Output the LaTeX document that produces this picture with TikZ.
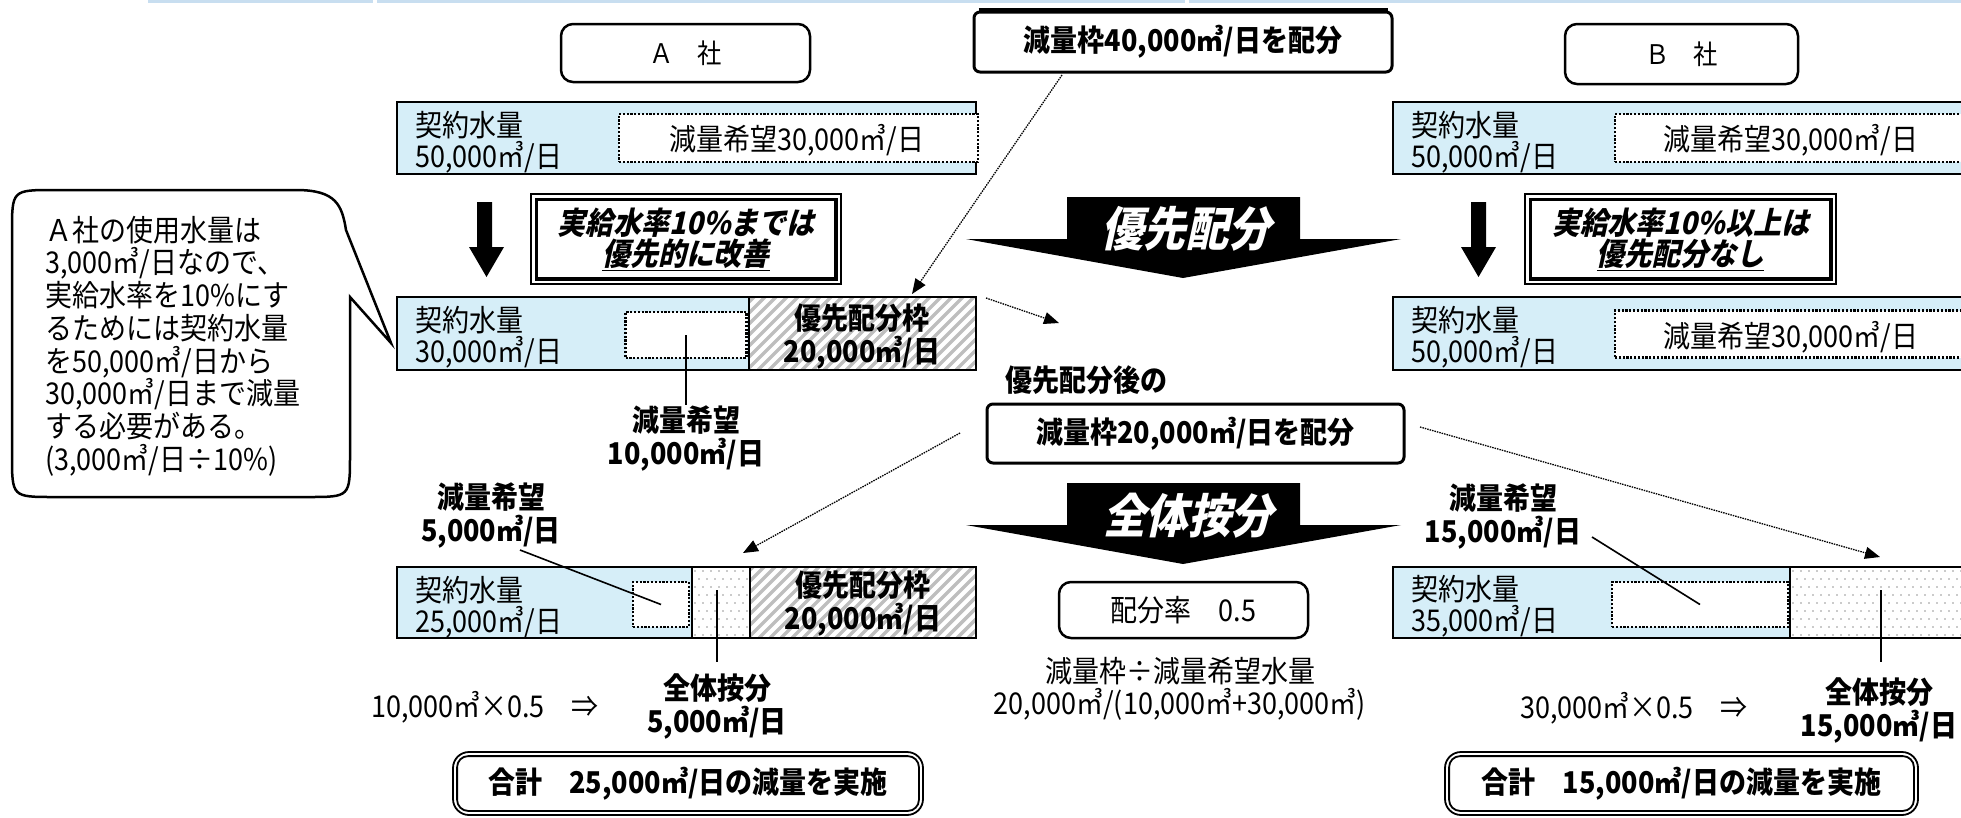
\documentclass[tikz,border=0pt]{standalone}
\usepackage{fontspec}
\setmainfont{Noto Sans CJK JP}[FakeStretch=0.9]
\newfontfamily\jpsl{Noto Sans CJK JP}[FakeSlant=0.22,FakeStretch=0.9]
\usetikzlibrary{arrows.meta,calc}
\definecolor{lblue}{RGB}{214,238,248}
\definecolor{hatchgray}{RGB}{190,190,190}
\definecolor{topline}{RGB}{200,222,240}
\definecolor{dotgray}{RGB}{150,150,150}

\newcommand{\hatchrect}[4]{%
  \begin{scope}\clip (#1,#2) rectangle (#3,#4);
  \foreach \k in {0,11,...,330} \draw[hatchgray, line width=3.5pt] (#1-90+\k,#4) -- ++(95,-95);
  \end{scope}}
\newcommand{\stipplerect}[4]{%
  \begin{scope}\clip (#1,#2) rectangle (#3,#4);
  \foreach \yy in {0,16,...,80} \foreach \xx in {0,8,...,200} \fill[dotgray] (#1+\xx+3,#2+\yy+4) circle (0.9pt);
  \foreach \yy in {8,24,...,80} \foreach \xx in {0,8,...,200} \fill[dotgray] (#1+\xx+7,#2+\yy+4) circle (0.9pt);
  \end{scope}}

\begin{document}
\begin{tikzpicture}[x=1pt,y=-1pt,
  txt/.style={font=\fontsize{30}{31}\selectfont, inner sep=0pt},
  btxt/.style={font=\fontsize{30}{33}\selectfont\bfseries, inner sep=0pt, align=center},
  frame/.style={draw, line width=2.5pt, inner sep=0pt},
  dotbox/.style={draw, fill=white, line width=2.5pt, dash pattern=on 2.2pt off 1.6pt, inner sep=0pt},
  rbox/.style={draw, line width=2.5pt, rounded corners=12pt, fill=white, inner sep=0pt},
  thickbox/.style={draw, line width=3pt, rounded corners=6pt, fill=white, inner sep=0pt},
  dblbox/.style={draw, line width=1.8pt, inner sep=0pt, align=center, font=\jpsl\bfseries\fontsize{31}{31}\selectfont},
  sumbox/.style={draw, line width=1.8pt, rounded corners=16pt, inner sep=0pt, font=\fontsize{30}{31}\selectfont\bfseries},
  darr/.style={line width=1.3pt, dash pattern=on 1.5pt off 1pt, -{Triangle[length=15pt,width=12pt]}},
  lead/.style={line width=1.6pt},
  bigtxt/.style={font=\jpsl\bfseries\fontsize{47}{50}\selectfont, text=white, inner sep=0pt},
  sep/.style={line width=2.5pt}
]
\useasboundingbox (0,0) rectangle (1961,817);

% top line
\draw[topline, line width=3pt] (148,1) -- (373,1) (377,1) -- (1185,1) (1189,1) -- (1961,1);

% company headers
\node[rbox, minimum width=249pt, minimum height=58pt, font=\fontsize{27}{30}\selectfont] (asha) at (685.5,53) {Ａ　社};
\node[rbox, minimum width=233pt, minimum height=60pt, font=\fontsize{27}{30}\selectfont] (bsha) at (1681.5,54) {Ｂ　社};

% reduction frame 40000
\node[thickbox, minimum width=418pt, minimum height=60pt, font=\fontsize{30}{31}\selectfont\bfseries] (w40) at (1183,42) {減量枠40,000㎥/日を配分};
\draw[line width=5pt] ([xshift=6pt]w40.north west) -- ([xshift=-6pt]w40.north east);

% ---------- Row 1 ----------
\node[frame, fill=lblue, minimum width=579pt, minimum height=72pt] (a1) at (686.5,138) {};
\node[dotbox, minimum width=359pt, minimum height=48pt] (a1d) at (798.5,138) {};
\node[txt, align=left, anchor=west] (a1t) at (415,142) {契約水量\\50,000㎥/日};
\node[txt] (a1w) at (797,140) {減量希望30,000㎥/日};

\node[frame, fill=lblue, minimum width=579pt, minimum height=72pt] (b1) at (1682.5,138) {};
\node[dotbox, minimum width=359pt, minimum height=48pt] (b1d) at (1794.5,138) {};
\node[txt, align=left, anchor=west] (b1t) at (1411,142) {契約水量\\50,000㎥/日};
\node[txt] (b1w) at (1791,140) {減量希望30,000㎥/日};

% down arrows
\fill (477,202) -- (492,202) -- (492,247) -- (504,247) -- (486.5,277) -- (469,247) -- (477,247) -- cycle;
\fill (1471,202) -- (1486,202) -- (1486,247) -- (1496,247) -- (1478.5,277) -- (1461,247) -- (1471,247) -- cycle;

% condition boxes
\node[dblbox, minimum width=310pt, minimum height=90pt] (ka) at (686,239) {実給水率10\%までは\\\underline{優先的に改善}};
\draw[line width=3.2pt] ($(ka.north west)+(6,6)$) rectangle ($(ka.south east)+(-6,-6)$);
\node[dblbox, minimum width=311pt, minimum height=90pt] (kb) at (1680.5,239) {実給水率10\%以上は\\\underline{優先配分なし}};
\draw[line width=3.2pt] ($(kb.north west)+(6,6)$) rectangle ($(kb.south east)+(-6,-6)$);

% ---------- Row 2 ----------
\fill[lblue] (397,297) rectangle (749,370);
\hatchrect{749}{297}{976}{370}
\node[frame, minimum width=579pt, minimum height=73pt] (a2) at (686.5,333.5) {};
\draw[sep] (749,297) -- (749,370);
\node[dotbox, minimum width=121pt, minimum height=46pt] (a2d) at (686,335) {};
\node[txt, align=left, anchor=west] (a2t) at (415,337) {契約水量\\30,000㎥/日};
\node[btxt] (a2h) at (862,337) {優先配分枠\\20,000㎥/日};

\node[frame, fill=lblue, minimum width=579pt, minimum height=73pt] (b2) at (1682.5,333.5) {};
\node[dotbox, minimum width=359pt, minimum height=47pt] (b2d) at (1794.5,334) {};
\node[txt, align=left, anchor=west] (b2t) at (1411,337) {契約水量\\50,000㎥/日};
\node[txt] (b2w) at (1791,337) {減量希望30,000㎥/日};

% big arrow 1
\fill (1067,197) -- (1300,197) -- (1300,239) -- (1401,239) -- (1183,278) -- (966,239) -- (1067,239) -- cycle;
\node[bigtxt] (yusen) at (1186,229) {優先配分};

\node[btxt, anchor=west] (go) at (1005,380) {優先配分後の};
\node[thickbox, minimum width=417pt, minimum height=59pt, font=\fontsize{30}{31}\selectfont\bfseries] (w20) at (1195.5,433.5) {減量枠20,000㎥/日を配分};

% big arrow 2
\fill (1067,483) -- (1300,483) -- (1300,525) -- (1401,525) -- (1183,564) -- (966,525) -- (1067,525) -- cycle;
\node[bigtxt] (zentai) at (1188,516) {全体按分};

\node[rbox, minimum width=249pt, minimum height=56pt, font=\fontsize{30}{31}\selectfont] (rate) at (1183.5,610) {配分率　0.5};
\node[txt, align=center, font=\fontsize{30}{32}\selectfont] (form) at (1180,689) {減量枠÷減量希望水量\\20,000㎥/(10,000㎥+30,000㎥)};

% ---------- Row 3 ----------
\fill[lblue] (397,567) rectangle (692,638);
\stipplerect{692}{567}{750}{638}
\hatchrect{750}{567}{976}{638}
\node[frame, minimum width=579pt, minimum height=71pt] (a3) at (686.5,602.5) {};
\draw[sep] (692,567) -- (692,638);
\draw[sep] (750,567) -- (750,638);
\node[dotbox, minimum width=56pt, minimum height=45pt] (a3d) at (661,604.5) {};
\node[txt, align=left, anchor=west] (a3t) at (415,607) {契約水量\\25,000㎥/日};
\node[btxt] (a3h) at (863,604) {優先配分枠\\20,000㎥/日};

\fill[lblue] (1393,567) rectangle (1790,638);
\stipplerect{1790}{567}{1975}{638}
\node[frame, minimum width=579pt, minimum height=71pt] (b3) at (1682.5,602.5) {};
\draw[sep] (1790,567) -- (1790,638);
\node[dotbox, minimum width=176pt, minimum height=45pt] (b3d) at (1700,604.5) {};
\node[txt, align=left, anchor=west] (b3t) at (1411,606) {契約水量\\35,000㎥/日};

% labels
\node[btxt] (l1) at (686,438) {減量希望\\10,000㎥/日};
\node[btxt] (l2) at (491,515) {減量希望\\5,000㎥/日};
\node[btxt] (l3) at (717,706) {全体按分\\5,000㎥/日};
\node[btxt] (l4) at (1503,516) {減量希望\\15,000㎥/日};
\node[btxt] (l5) at (1879,710) {全体按分\\15,000㎥/日};
\node[txt] (c1) at (485,707) {10,000㎥×0.5　⇒};
\node[txt] (c2) at (1634,708) {30,000㎥×0.5　⇒};

% leader lines
\coordinate (l2s) at (520,550);
\coordinate (l4s) at (1592,537);
\coordinate (s3a) at (717,590);
\coordinate (s3b) at (1881,590);
\coordinate (s3ae) at (717,662);
\coordinate (s3be) at (1881,662);
\draw[lead] (a2d.center) -- (l1.north);
\draw[lead] (l2s) -- (a3d.center);
\draw[lead] (s3a) -- (s3ae);
\draw[lead] (l4s) -- (b3d.center);
\draw[lead] (s3b) -- (s3be);

% dotted arrows
\coordinate (q1) at (1062,75);  \coordinate (p1) at (912,294);
\coordinate (q2) at (986,298);  \coordinate (p2) at (1059,323);
\coordinate (q3) at (960,433);  \coordinate (p3) at (743,553);
\coordinate (q4) at (1420,427); \coordinate (p4) at (1880,557);
\draw[darr] (q1) -- (p1);
\draw[darr] (q2) -- (p2);
\draw[darr] (q3) -- (p3);
\draw[darr] (q4) -- (p4);

% sum boxes
\node[sumbox, minimum width=470pt, minimum height=63pt] (sumA) at (688,783.5) {合計　25,000㎥/日の減量を実施};
\draw[line width=1.8pt, rounded corners=11pt] ($(sumA.north west)+(5,5)$) rectangle ($(sumA.south east)+(-5,-5)$);
\node[sumbox, minimum width=473pt, minimum height=63pt] (sumB) at (1681.5,783.5) {合計　15,000㎥/日の減量を実施};
\draw[line width=1.8pt, rounded corners=11pt] ($(sumB.north west)+(5,5)$) rectangle ($(sumB.south east)+(-5,-5)$);

% speech bubble
\draw[line width=2.5pt, fill=white] (12,232) .. controls (12,190) .. (54,190) -- (296,190) .. controls (336,190) and (342,205) .. (346,230) -- (391,343) -- (350,297) -- (350,455) .. controls (350,497) .. (308,497) -- (54,497) .. controls (12,497) .. (12,455) -- cycle;
\node[txt, align=left, anchor=west, font=\fontsize{30}{32.7}\selectfont] (bub) at (45,346) {Ａ社の使用水量は\\3,000㎥/日なので、\\実給水率を10\%にす\\るためには契約水量\\を50,000㎥/日から\\30,000㎥/日まで減量\\する必要がある。\\(3,000㎥/日÷10\%)};
\end{tikzpicture}
\end{document}
